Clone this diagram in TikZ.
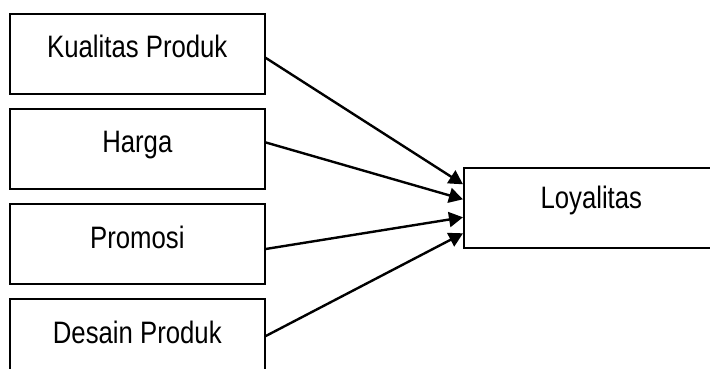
\documentclass[tikz,border=0pt]{standalone}
\usepackage{fontspec}
\setmainfont[FakeStretch=0.83]{Liberation Sans}
\usetikzlibrary{positioning}
\usetikzlibrary{arrows.meta}
\tikzset{varbox/.style={draw, rectangle, line width=1.6pt, inner sep=0pt,
    minimum width=255pt, text height=44pt, text depth=36pt,
    font=\fontsize{31}{37}\selectfont}}

\begin{document}
\begin{tikzpicture}[x=1pt, y=1pt]
  \useasboundingbox (0,0) rectangle (710,-369);

  \begin{scope}[every node/.style={varbox}, node distance=13.5pt]
    \node [anchor=north west] (kp) at (9,-13) {Kualitas Produk};
    \node [below=of kp] (hg) {Harga};
    \node [below=of hg] (pr) {Promosi};
    \node [below=of pr] (dp) {Desain Produk};
    \node [anchor=north west, text height=41pt, text depth=39pt] (ly) at (463,-167) {Loyalitas};
  \end{scope}

  \begin{scope}[line width=2.4pt, -{Triangle[length=14pt, width=15pt]}]
    \draw ([yshift=-4pt]kp.east) -- ([yshift=23.5pt]ly.west);
    \draw ([yshift=6.5pt]hg.east) -- ([yshift=8.5pt]ly.west);
    \draw ([yshift=-5pt]pr.east) -- ([yshift=-9.5pt]ly.west);
    \draw ([yshift=3pt]dp.east) -- ([yshift=-25.5pt]ly.west);
  \end{scope}
\end{tikzpicture}
\end{document}
